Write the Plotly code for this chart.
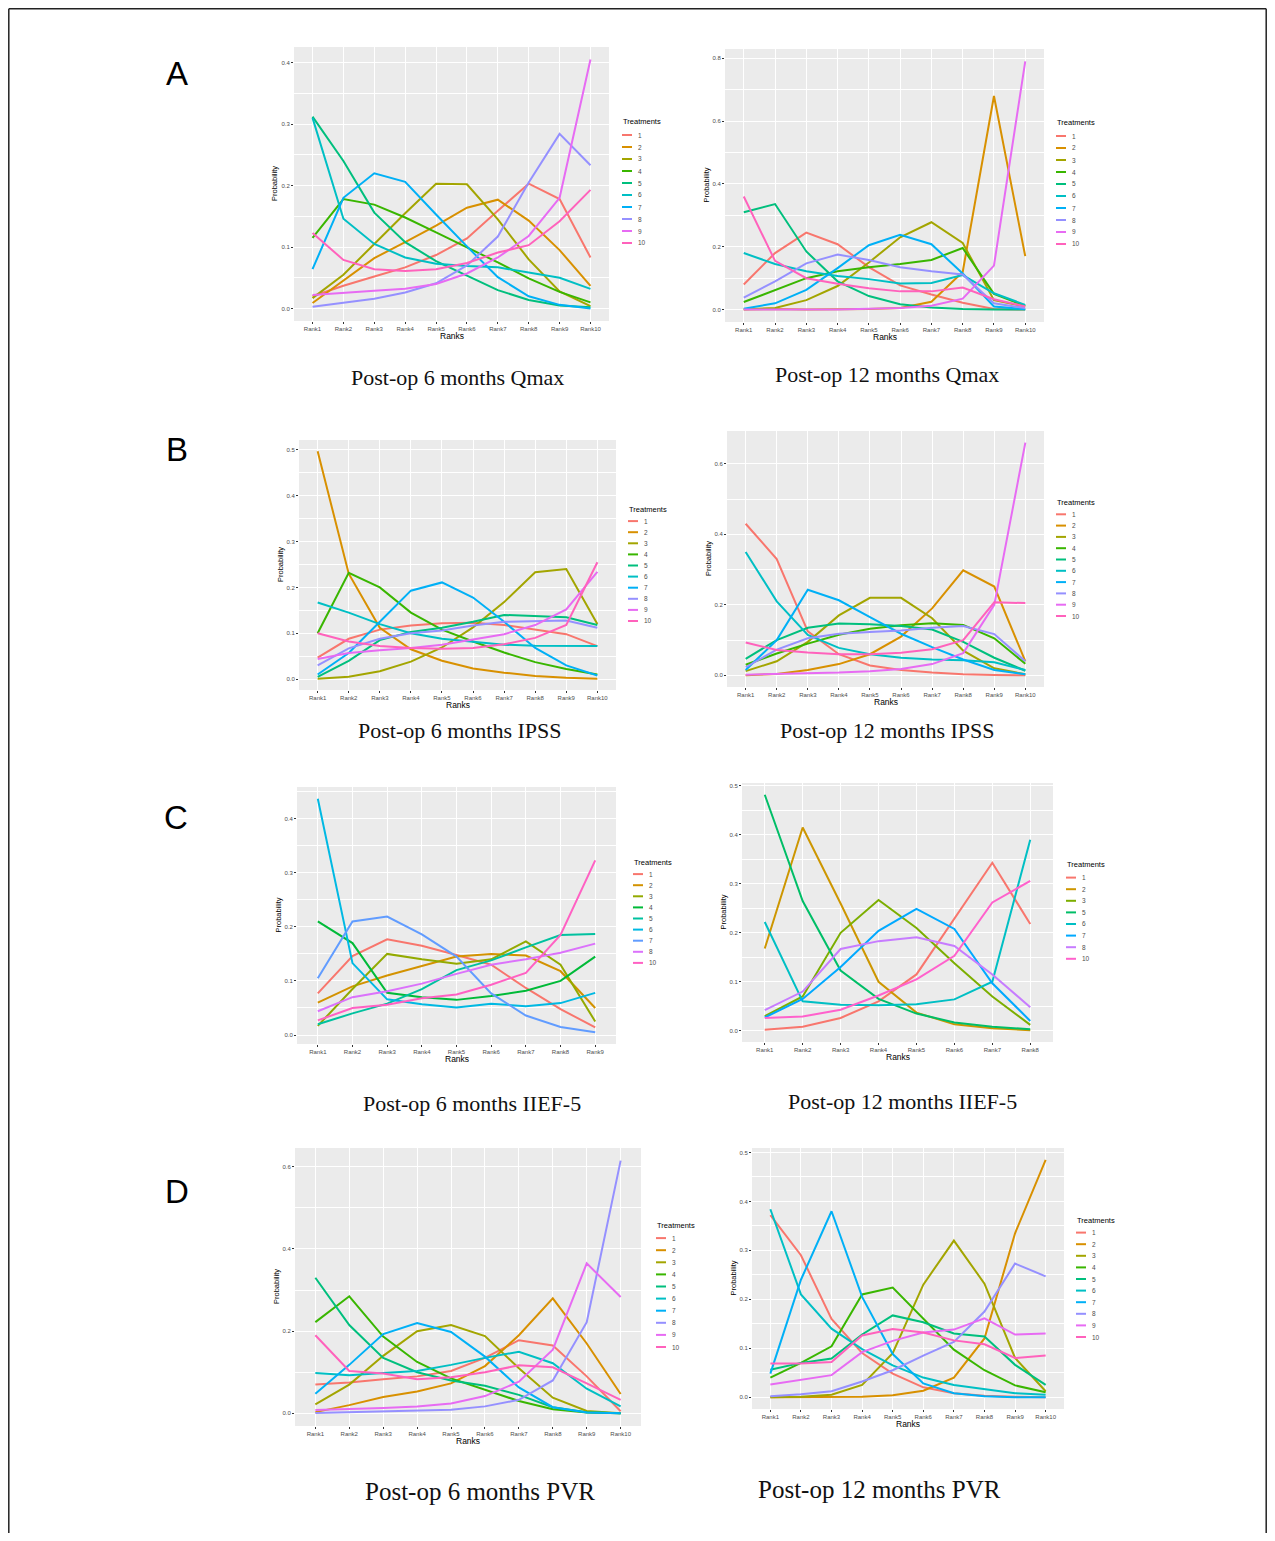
import plotly.graph_objects as go

# page body has an 8px margin in the browser, so the figure is offset by 8px;
# keep the whole page inside the 1275x1541 window (no scrollbars)
OFF = 8
W, H = 1275 - 2 * OFF, 1541 - 2 * OFF

# ---------------- data ----------------
RANKS10 = ["Rank1", "Rank2", "Rank3", "Rank4", "Rank5", "Rank6", "Rank7", "Rank8", "Rank9", "Rank10"]
RANKS9 = RANKS10[:9]
RANKS8 = RANKS10[:8]

TREAT10 = ["1", "2", "3", "4", "5", "6", "7", "8", "9", "10"]
TREAT_C6 = ["1", "2", "3", "4", "5", "6", "7", "8", "10"]
TREAT_C12 = ["1", "2", "3", "5", "6", "7", "8", "10"]

COLORS10 = ["#F8766D", "#D89000", "#A3A500", "#39B600", "#00BF7D", "#00BFC4", "#00B0F6", "#9590FF", "#E76BF3", "#FF62BC"]
COLORS9 = ["#F8766D", "#D39200", "#93AA00", "#00BA38", "#00C19F", "#00B9E3", "#619CFF", "#DB72FB", "#FF61C3"]
COLORS8 = ["#F8766D", "#CD9600", "#7CAE00", "#00BE67", "#00BFC4", "#00A9FF", "#C77CFF", "#FF61CC"]

QMAX_6M = [
    [0.020, 0.037, 0.052, 0.067, 0.087, 0.114, 0.159, 0.203, 0.178, 0.083],
    [0.009, 0.045, 0.082, 0.108, 0.135, 0.164, 0.177, 0.143, 0.095, 0.037],
    [0.017, 0.055, 0.105, 0.155, 0.203, 0.202, 0.145, 0.080, 0.028, 0.004],
    [0.115, 0.178, 0.169, 0.148, 0.124, 0.100, 0.075, 0.049, 0.027, 0.010],
    [0.312, 0.240, 0.156, 0.108, 0.077, 0.053, 0.030, 0.014, 0.005, 0.002],
    [0.310, 0.146, 0.105, 0.083, 0.073, 0.069, 0.067, 0.058, 0.050, 0.032],
    [0.064, 0.180, 0.220, 0.206, 0.153, 0.101, 0.051, 0.020, 0.006, 0.000],
    [0.003, 0.009, 0.016, 0.026, 0.041, 0.070, 0.117, 0.205, 0.284, 0.233],
    [0.022, 0.026, 0.029, 0.032, 0.040, 0.057, 0.083, 0.118, 0.180, 0.405],
    [0.123, 0.079, 0.064, 0.061, 0.064, 0.074, 0.091, 0.103, 0.142, 0.193],
]
QMAX_12M = [
    [0.080, 0.180, 0.245, 0.208, 0.135, 0.077, 0.048, 0.022, 0.002, 0.000],
    [0.000, 0.002, 0.000, 0.000, 0.002, 0.005, 0.025, 0.120, 0.680, 0.170],
    [0.001, 0.005, 0.030, 0.075, 0.150, 0.230, 0.278, 0.212, 0.030, 0.010],
    [0.024, 0.062, 0.100, 0.122, 0.135, 0.145, 0.158, 0.196, 0.050, 0.012],
    [0.310, 0.336, 0.185, 0.090, 0.043, 0.017, 0.007, 0.002, 0.000, 0.000],
    [0.180, 0.145, 0.122, 0.107, 0.097, 0.083, 0.085, 0.110, 0.052, 0.015],
    [0.003, 0.020, 0.063, 0.132, 0.205, 0.238, 0.208, 0.115, 0.010, 0.001],
    [0.038, 0.090, 0.147, 0.175, 0.158, 0.135, 0.122, 0.112, 0.020, 0.005],
    [0.000, 0.000, 0.000, 0.000, 0.003, 0.005, 0.012, 0.035, 0.140, 0.790],
    [0.360, 0.155, 0.100, 0.082, 0.068, 0.058, 0.058, 0.070, 0.033, 0.010],
]
IPSS_6M = [
    [0.047, 0.088, 0.108, 0.117, 0.122, 0.123, 0.118, 0.108, 0.098, 0.072],
    [0.497, 0.230, 0.112, 0.065, 0.040, 0.023, 0.014, 0.007, 0.003, 0.001],
    [0.001, 0.005, 0.017, 0.038, 0.069, 0.113, 0.168, 0.233, 0.240, 0.120],
    [0.100, 0.232, 0.200, 0.145, 0.108, 0.082, 0.058, 0.037, 0.022, 0.010],
    [0.005, 0.040, 0.085, 0.103, 0.112, 0.125, 0.140, 0.137, 0.135, 0.118],
    [0.167, 0.145, 0.120, 0.100, 0.088, 0.082, 0.075, 0.073, 0.072, 0.072],
    [0.010, 0.057, 0.125, 0.193, 0.211, 0.178, 0.125, 0.068, 0.030, 0.008],
    [0.030, 0.067, 0.088, 0.100, 0.106, 0.117, 0.125, 0.127, 0.128, 0.112],
    [0.044, 0.057, 0.063, 0.068, 0.075, 0.087, 0.098, 0.118, 0.152, 0.234],
    [0.100, 0.082, 0.072, 0.068, 0.066, 0.068, 0.076, 0.090, 0.118, 0.255],
]
IPSS_12M = [
    [0.430, 0.330, 0.125, 0.060, 0.028, 0.015, 0.008, 0.003, 0.001, 0.000],
    [0.000, 0.004, 0.015, 0.032, 0.060, 0.110, 0.190, 0.298, 0.252, 0.040],
    [0.012, 0.040, 0.095, 0.170, 0.220, 0.220, 0.162, 0.070, 0.020, 0.003],
    [0.030, 0.062, 0.090, 0.115, 0.132, 0.142, 0.148, 0.143, 0.105, 0.033],
    [0.047, 0.100, 0.135, 0.147, 0.145, 0.140, 0.130, 0.095, 0.050, 0.013],
    [0.350, 0.210, 0.115, 0.078, 0.060, 0.050, 0.045, 0.043, 0.037, 0.015],
    [0.015, 0.100, 0.243, 0.213, 0.165, 0.118, 0.080, 0.045, 0.015, 0.003],
    [0.023, 0.073, 0.105, 0.118, 0.123, 0.127, 0.135, 0.140, 0.117, 0.040],
    [0.002, 0.004, 0.005, 0.008, 0.012, 0.018, 0.032, 0.063, 0.200, 0.660],
    [0.093, 0.072, 0.065, 0.060, 0.060, 0.064, 0.074, 0.100, 0.207, 0.205],
]
IIEF_6M = [
    [0.077, 0.146, 0.177, 0.165, 0.148, 0.130, 0.087, 0.048, 0.014],
    [0.060, 0.090, 0.110, 0.128, 0.145, 0.150, 0.147, 0.118, 0.050],
    [0.017, 0.085, 0.150, 0.140, 0.132, 0.140, 0.173, 0.130, 0.025],
    [0.210, 0.170, 0.078, 0.070, 0.065, 0.072, 0.082, 0.100, 0.145],
    [0.020, 0.040, 0.058, 0.085, 0.120, 0.138, 0.162, 0.185, 0.187],
    [0.437, 0.133, 0.066, 0.057, 0.051, 0.058, 0.053, 0.059, 0.078],
    [0.105, 0.210, 0.219, 0.186, 0.145, 0.077, 0.036, 0.015, 0.005],
    [0.044, 0.070, 0.081, 0.095, 0.113, 0.130, 0.140, 0.152, 0.169],
    [0.027, 0.050, 0.056, 0.068, 0.075, 0.093, 0.115, 0.185, 0.323],
]
IIEF_12M = [
    [0.002, 0.008, 0.026, 0.060, 0.115, 0.230, 0.343, 0.218],
    [0.168, 0.415, 0.260, 0.100, 0.037, 0.013, 0.005, 0.001],
    [0.030, 0.070, 0.200, 0.267, 0.210, 0.138, 0.070, 0.012],
    [0.482, 0.265, 0.123, 0.065, 0.035, 0.017, 0.008, 0.003],
    [0.222, 0.060, 0.053, 0.052, 0.054, 0.064, 0.100, 0.390],
    [0.027, 0.065, 0.130, 0.204, 0.249, 0.208, 0.097, 0.020],
    [0.042, 0.080, 0.167, 0.183, 0.191, 0.173, 0.115, 0.048],
    [0.026, 0.029, 0.043, 0.072, 0.105, 0.153, 0.262, 0.306],
]
PVR_6M = [
    [0.070, 0.075, 0.083, 0.090, 0.103, 0.135, 0.178, 0.165, 0.090, 0.005],
    [0.003, 0.020, 0.040, 0.053, 0.073, 0.115, 0.190, 0.280, 0.170, 0.047],
    [0.022, 0.070, 0.140, 0.200, 0.215, 0.188, 0.110, 0.038, 0.006, 0.000],
    [0.222, 0.285, 0.187, 0.125, 0.085, 0.057, 0.030, 0.010, 0.002, 0.000],
    [0.330, 0.215, 0.135, 0.100, 0.080, 0.067, 0.045, 0.015, 0.003, 0.000],
    [0.098, 0.093, 0.098, 0.103, 0.118, 0.135, 0.150, 0.122, 0.060, 0.017],
    [0.048, 0.118, 0.193, 0.220, 0.198, 0.138, 0.063, 0.015, 0.002, 0.000],
    [0.001, 0.003, 0.004, 0.006, 0.009, 0.017, 0.033, 0.080, 0.222, 0.615],
    [0.008, 0.010, 0.013, 0.017, 0.024, 0.042, 0.077, 0.155, 0.365, 0.283],
    [0.190, 0.103, 0.097, 0.083, 0.088, 0.100, 0.117, 0.112, 0.073, 0.033],
]
PVR_12M = [
    [0.372, 0.290, 0.160, 0.090, 0.048, 0.020, 0.008, 0.003, 0.001, 0.000],
    [0.000, 0.000, 0.000, 0.001, 0.004, 0.013, 0.040, 0.120, 0.335, 0.485],
    [0.000, 0.001, 0.005, 0.025, 0.090, 0.230, 0.320, 0.232, 0.080, 0.012],
    [0.040, 0.070, 0.104, 0.210, 0.224, 0.160, 0.097, 0.055, 0.024, 0.010],
    [0.056, 0.070, 0.079, 0.128, 0.167, 0.153, 0.130, 0.124, 0.066, 0.025],
    [0.384, 0.210, 0.140, 0.098, 0.065, 0.040, 0.025, 0.016, 0.008, 0.005],
    [0.048, 0.240, 0.380, 0.205, 0.088, 0.028, 0.008, 0.002, 0.000, 0.000],
    [0.002, 0.006, 0.012, 0.032, 0.055, 0.085, 0.113, 0.175, 0.273, 0.247],
    [0.026, 0.035, 0.045, 0.092, 0.115, 0.132, 0.138, 0.161, 0.128, 0.130],
    [0.069, 0.069, 0.072, 0.126, 0.139, 0.132, 0.116, 0.108, 0.080, 0.085],
]

CAPTIONS = ["Post-op 6 months Qmax", "Post-op 12 months Qmax",
            "Post-op 6 months IPSS", "Post-op 12 months IPSS",
            "Post-op 6 months IIEF-5", "Post-op 12 months IIEF-5",
            "Post-op 6 months PVR", "Post-op 12 months PVR"]
ROW_LETTERS = ["A", "B", "C", "D"]

# ---------------- layout specs (screen pixels) ----------------
PANELS = [
    dict(data=QMAX_6M, ranks=RANKS10, treat=TREAT10, colors=COLORS10, dtick=0.1,
         box=(294, 609, 47, 321), leg=(621, 122, 12.0), cap=(457, 378, 22)),
    dict(data=QMAX_12M, ranks=RANKS10, treat=TREAT10, colors=COLORS10, dtick=0.2,
         box=(725, 1044, 49, 322), leg=(1055, 123, 12.0), cap=(887, 374, 22)),
    dict(data=IPSS_6M, ranks=RANKS10, treat=TREAT10, colors=COLORS10, dtick=0.1,
         box=(299, 616, 440, 690), leg=(627, 509, 11.1), cap=(460, 731, 22)),
    dict(data=IPSS_12M, ranks=RANKS10, treat=TREAT10, colors=COLORS10, dtick=0.2,
         box=(727, 1044, 431, 687), leg=(1055, 502, 11.3), cap=(887, 731, 22)),
    dict(data=IIEF_6M, ranks=RANKS9, treat=TREAT_C6, colors=COLORS9, dtick=0.1,
         box=(297, 616, 787, 1044), leg=(632, 862, 11.1), cap=(472, 1103, 22)),
    dict(data=IIEF_12M, ranks=RANKS8, treat=TREAT_C12, colors=COLORS8, dtick=0.1,
         box=(742, 1053, 783, 1042), leg=(1065, 865, 11.6), cap=(902, 1101, 22)),
    dict(data=PVR_6M, ranks=RANKS10, treat=TREAT10, colors=COLORS10, dtick=0.2,
         box=(295, 641, 1148, 1426), leg=(655, 1225, 12.1), cap=(480, 1491, 25)),
    dict(data=PVR_12M, ranks=RANKS10, treat=TREAT10, colors=COLORS10, dtick=0.1,
         box=(752, 1064, 1148, 1409), leg=(1075, 1220, 11.6), cap=(879, 1489, 25)),
]
LETTER_POS = [(177, 74), (177, 449), (176, 817), (177, 1191)]


def fx(x):
    return (x - OFF) / W


def fy(y):
    return 1 - (y - OFF) / H


SANS = "Liberation Sans, Arial, sans-serif"
SERIF = "Liberation Serif, Times New Roman, serif"
LW = 2.0

fig = go.Figure()
layout = dict(
    width=W, height=H,
    margin=dict(l=0, r=0, t=0, b=0),
    paper_bgcolor="white",
    plot_bgcolor="#EBEBEB",
    showlegend=False,
    font=dict(family=SANS),
)
annotations = []
shapes = []

for k, p in enumerate(PANELS, start=1):
    sfx = "" if k == 1 else str(k)
    x0, x1, y0, y1 = p["box"]
    n = len(p["ranks"])
    allv = [v for row in p["data"] for v in row]
    vmin, vmax = min(allv), max(allv)
    pad = (vmax - vmin) * 0.05
    for vals, name, col in zip(p["data"], p["treat"], p["colors"]):
        fig.add_trace(go.Scatter(
            x=p["ranks"], y=vals, mode="lines", name=name,
            line=dict(color=col, width=LW),
            xaxis="x" + sfx, yaxis="y" + sfx, showlegend=False,
        ))
    layout["xaxis" + sfx] = dict(
        domain=[fx(x0), fx(x1)], anchor="y" + sfx, type="category",
        categoryorder="array", categoryarray=p["ranks"],
        range=[-0.6, n - 0.4], showgrid=True, gridcolor="white", gridwidth=1,
        zeroline=False, showline=False, ticks="outside", ticklen=2,
        tickcolor="#333333", tickwidth=0.8,
        tickfont=dict(size=6, color="#4D4D4D", family=SANS),
    )
    layout["yaxis" + sfx] = dict(
        domain=[fy(y1), fy(y0)], anchor="x" + sfx,
        range=[vmin - pad, vmax + pad], tick0=0, dtick=p["dtick"],
        tickformat=".1f", showgrid=True, gridcolor="white", gridwidth=1,
        minor=dict(tick0=0, dtick=p["dtick"] / 2, showgrid=True,
                   gridcolor="white", gridwidth=0.5),
        zeroline=False, showline=False, ticks="outside", ticklen=2,
        tickcolor="#333333", tickwidth=0.8,
        tickfont=dict(size=6, color="#4D4D4D", family=SANS),
    )
    # axis titles
    annotations.append(dict(
        text="Ranks", xref="paper", yref="paper", x=fx((x0 + x1) / 2), y=fy(y1 + 15),
        showarrow=False, font=dict(size=8.5, color="black", family=SANS),
        xanchor="center", yanchor="middle"))
    annotations.append(dict(
        text="Probability", xref="paper", yref="paper", x=fx(x0 - 19), y=fy((y0 + y1) / 2),
        showarrow=False, textangle=-90, font=dict(size=7.5, color="black", family=SANS),
        xanchor="center", yanchor="middle"))
    # legend (drawn manually to get ggplot-like compact spacing)
    lx, ly, sp = p["leg"]
    annotations.append(dict(
        text="Treatments", xref="paper", yref="paper", x=fx(lx), y=fy(ly),
        showarrow=False, font=dict(size=7.5, color="black", family=SANS),
        xanchor="left", yanchor="middle"))
    for i, (name, col) in enumerate(zip(p["treat"], p["colors"])):
        yy = ly + sp * (i + 1) + 1
        shapes.append(dict(
            type="line", xref="paper", yref="paper",
            x0=fx(lx + 1), x1=fx(lx + 11), y0=fy(yy), y1=fy(yy),
            line=dict(color=col, width=LW)))
        annotations.append(dict(
            text=name, xref="paper", yref="paper", x=fx(lx + 15), y=fy(yy),
            showarrow=False, font=dict(size=6.5, color="#4D4D4D", family=SANS),
            xanchor="left", yanchor="middle"))
    # caption
    cx, cy, cs = p["cap"]
    annotations.append(dict(
        text=CAPTIONS[k - 1], xref="paper", yref="paper", x=fx(cx), y=fy(cy),
        showarrow=False, font=dict(size=cs, color="#111111", family=SERIF),
        xanchor="center", yanchor="middle"))

for letter, (lx, ly) in zip(ROW_LETTERS, LETTER_POS):
    annotations.append(dict(
        text=letter, xref="paper", yref="paper", x=fx(lx), y=fy(ly),
        showarrow=False, font=dict(size=33, color="black", family=SANS),
        xanchor="center", yanchor="middle"))

# outer frame (open at the bottom, as in the reference)
for (ax, ay, bx, by) in [(8.8, 8.8, 1266.2, 8.8), (8.8, 8.8, 8.8, 1541),
                         (1266.2, 8.8, 1266.2, 1541)]:
    shapes.append(dict(
        type="line", xref="paper", yref="paper",
        x0=fx(ax), y0=fy(ay), x1=fx(bx), y1=fy(by),
        line=dict(color="#222222", width=1.5), layer="above"))

layout["annotations"] = annotations
layout["shapes"] = shapes
fig.update_layout(**layout)
fig.write_html("out.html")
